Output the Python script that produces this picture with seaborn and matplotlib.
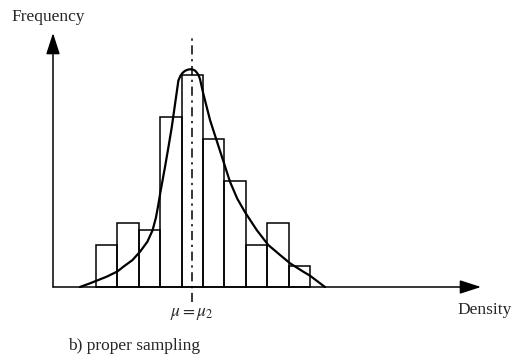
import numpy as np
import pandas as pd
import matplotlib
matplotlib.use("Agg")
import matplotlib.pyplot as plt
import seaborn as sns

# ---------------- data ----------------
bin_edges = [0, 1, 2, 3, 4, 5, 6, 7, 8, 9, 10]
frequency = [6, 9, 8, 24, 30, 21, 15, 6, 9, 3]

curve_x = [-0.75, -0.28, 0.50, 1.00, 1.28, 1.70, 2.06, 2.40, 2.64, 2.80, 2.91,
           3.02, 3.22, 3.38, 3.54, 3.69, 3.85, 3.95, 4.05, 4.15, 4.25, 4.35,
           4.44, 4.53, 4.63, 4.72, 4.80, 4.86, 5.01, 5.33, 5.64, 5.95, 6.26,
           6.60, 6.96, 7.51, 8.05, 8.60, 9.07, 9.69, 10.00, 10.70]
curve_y = [0.0, 0.52, 1.46, 2.2, 2.87, 3.8, 5.0, 6.4, 8.0, 9.8, 11.6,
           13.6, 16.9, 19.7, 22.6, 25.8, 29.2, 29.9, 30.3, 30.55, 30.7, 30.78,
           30.8, 30.75, 30.6, 30.3, 29.9, 29.4, 27.4, 23.6, 20.7, 17.8, 14.9,
           12.5, 10.6, 8.06, 5.94, 4.53, 3.35, 2.16, 1.6, 0.0]

mu = 4.5
x_label = "Density"
y_label = "Frequency"
mu_label = r"$\mu = \mu_2$"
caption = "b) proper sampling"

# ---------------- figure ----------------
sns.set_style("white")
plt.rcParams["font.family"] = ["Liberation Serif", "DejaVu Serif"]
plt.rcParams["mathtext.fontset"] = "stix"

W, H = 513, 358
fig = plt.figure(figsize=(W / 100, H / 100), dpi=100)
ax = fig.add_axes([0, 0, 1, 1])

# pixel -> data mapping: x = (px - 96)/21.4 ; y = (287 - py)/7.07
px_per_x, x0_px = 21.4, 96.0
px_per_y, y0_px = 7.07, 287.0
ax.set_xlim((0 - x0_px) / px_per_x, (W - x0_px) / px_per_x)
ax.set_ylim((y0_px - H) / px_per_y, y0_px / px_per_y)
ax.axis("off")

def dx(px):
    return (px - x0_px) / px_per_x

def dy(py):
    return (y0_px - py) / px_per_y

centers = [(a + b) / 2 for a, b in zip(bin_edges[:-1], bin_edges[1:])]
sns.histplot(x=centers, weights=frequency, bins=bin_edges, ax=ax,
             fill=False, color="black", linewidth=1.1, element="bars")

sns.lineplot(x=curve_x, y=curve_y, sort=False, estimator=None, ax=ax,
             color="black", linewidth=1.6, solid_joinstyle="round")

# dash-dot mean line
ax.plot([mu, mu], [dy(302), dy(38)], color="black", linewidth=1.1,
        linestyle=(0, (6, 3, 1.5, 3)))

# axes with arrows
arrow_kw = dict(arrowstyle="-|>,head_length=1.3,head_width=0.42",
                color="black", linewidth=1.1, shrinkA=0, shrinkB=0,
                mutation_scale=10)
ax.annotate("", xy=(dx(53), dy(33)), xytext=(dx(53), 0), arrowprops=arrow_kw)
ax.annotate("", xy=(dx(481), 0), xytext=(dx(53), 0), arrowprops=arrow_kw)

# texts
fs = 12.5
fig.text(11 / W, 1 - 17 / H, y_label, fontsize=fs, ha="left", va="center")
fig.text(457 / W, 1 - 310 / H, x_label, fontsize=fs, ha="left", va="center")
fig.text(170 / W, 1 - 314 / H, mu_label, fontsize=fs, ha="left", va="center")
fig.text(68 / W, 1 - 346 / H, caption, fontsize=fs, ha="left", va="center")

fig.savefig("out.png", dpi=100)
